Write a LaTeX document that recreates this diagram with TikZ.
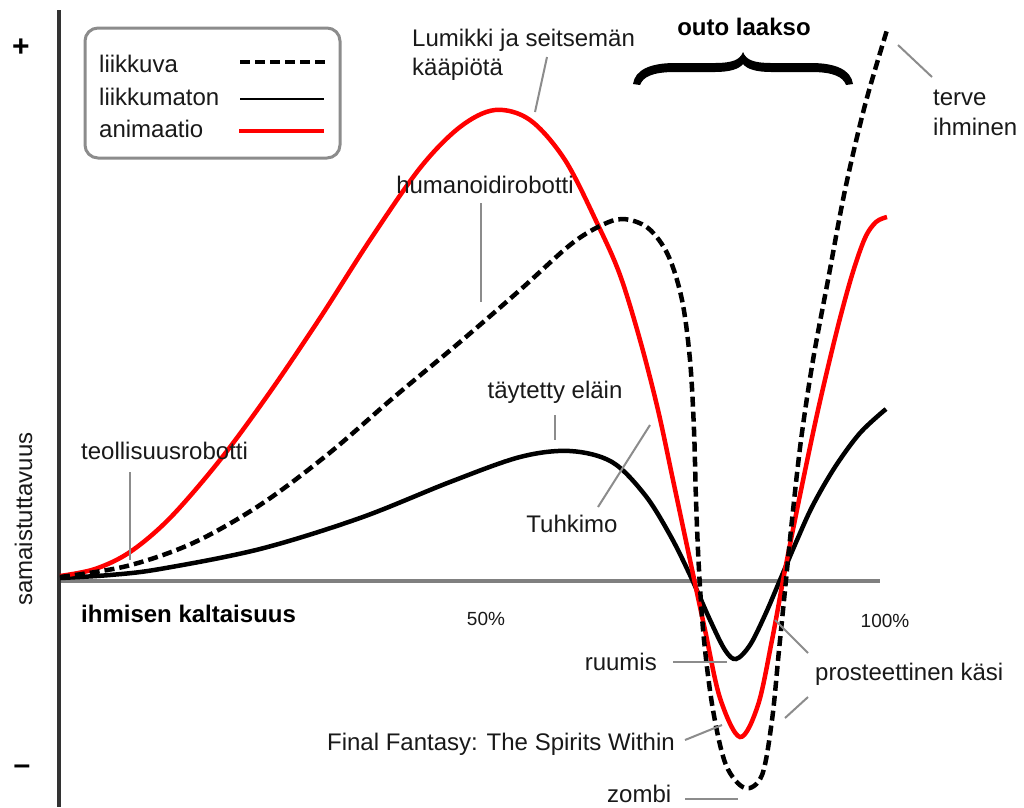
\documentclass[tikz,border=0pt]{standalone}
\usepackage{fontspec}
\setmainfont{Liberation Sans}
\definecolor{leadgray}{RGB}{140,140,140}
\definecolor{axisgray}{RGB}{128,128,128}
\definecolor{axisdark}{RGB}{51,51,51}
\definecolor{txt}{RGB}{25,25,25}
\begin{document}
\begin{tikzpicture}[x=1pt,y=-1pt,
  lbl/.style={font=\fontsize{24}{28}\selectfont, inner sep=0pt, text=txt},
  bold/.style={font=\fontsize{24}{28}\selectfont\bfseries, inner sep=0pt, text=black},
  sign/.style={font=\fontsize{30}{34}\selectfont\bfseries, inner sep=0pt, text=black},
  pct/.style={font=\fontsize{19}{22}\selectfont, inner sep=0pt, text=txt},
  lead/.style={draw=leadgray, line width=2pt},
  csolid/.style={draw=black, line width=4.5pt},
  cdash/.style={draw=black, line width=4.5pt, dash pattern=on 10pt off 5pt},
  cred/.style={draw=red, line width=4.5pt},
  legendbox/.style={draw=leadgray, line width=3pt, rounded corners=13pt, minimum width=255pt, minimum height=130pt, inner sep=0pt}
]
\useasboundingbox (0,0) rectangle (1024,807);
\fill[white] (0,0) rectangle (1024,807);

% axes
\coordinate (yaxtop) at (59,10);
\coordinate (yaxbot) at (59,807);
\coordinate (xaxl) at (59,581);
\coordinate (xaxr) at (880,581);
\draw[axisgray, line width=4pt] (xaxl) -- (xaxr);
\draw[axisdark, line width=4pt] (yaxtop) -- (yaxbot);

\node[sign] (plus) at (21,48) {+};
\node[sign] (minus) at (22,770) {–};
\node[lbl, rotate=90, anchor=base] (yl) at (32,519) {samaistuttavuus};
\node[bold, anchor=base west] (xl) at (81,622) {ihmisen kaltaisuus};
\node[pct, anchor=base] (p50) at (486,625) {50\%};
\node[pct, anchor=base] (p100) at (885,627) {100\%};

% legend
\node[legendbox] (legend) at (212.5,93) {};
\node[lbl, anchor=base west] (lg1) at (99,72) {liikkuva};
\node[lbl, anchor=base west] (lg2) at (99,105) {liikkumaton};
\node[lbl, anchor=base west] (lg3) at (99,137) {animaatio};
\coordinate (l1a) at (240,62); \coordinate (l1b) at (325,62);
\coordinate (l2a) at (240,99); \coordinate (l2b) at (324,99);
\coordinate (l3a) at (239,131); \coordinate (l3b) at (324,131);
\draw[draw=black, line width=4pt, dash pattern=on 10pt off 5pt] (l1a) -- (l1b);
\draw[draw=black, line width=2.5pt] (l2a) -- (l2b);
\draw[draw=red, line width=3.5pt] (l3a) -- (l3b);

% brace
\fill[black] (633,84) .. controls (635,70) and (650,63) .. (675,63) -- (715,63)
  .. controls (732,63) and (740,60) .. (743,52)
  .. controls (746,60) and (754,63) .. (771,63) -- (811,63)
  .. controls (836,63) and (851,70) .. (853,84) -- (846,85)
  .. controls (843,77) and (834,72) .. (811,72) -- (771,72)
  .. controls (756,72) and (747,69) .. (743,64)
  .. controls (739,69) and (730,72) .. (715,72) -- (675,72)
  .. controls (652,72) and (643,77) .. (640,85) -- cycle;
\node[bold, anchor=base] (outo) at (744,35) {outo laakso};

% curves
\draw[csolid] plot[smooth, tension=0.55] coordinates {(60,578) (110,575) (160,569) (260,549) (360,518) (450,482) (520,457) (570,451) (612,462) (645,495) (670,535) (690,575) (710,620) (725,650) (736,659) (750,645) (765,615) (780,580) (797,540) (813,505) (835,467) (860,433) (886,409)};
\draw[cred] plot[smooth, tension=0.55] coordinates {(60,576) (95,569) (130,552) (170,518) (220,460) (270,392) (320,318) (370,240) (420,168) (460,127) (495,110) (530,120) (565,160) (598,225) (620,275) (640,340) (658,410) (673,480) (690,560) (705,630) (720,698) (740,737) (758,705) (772,640) (785,570) (800,495) (818,410) (837,330) (852,275) (865,238) (876,222) (887,217)};
\draw[cdash] plot[smooth, tension=0.55] coordinates {(60,577) (127,566) (193,543) (260,505) (327,455) (393,398) (460,342) (520,290) (570,245) (600,226) (623,219) (648,228) (668,255) (682,300) (690,360) (694,430) (696,500) (699,570) (704,640) (713,710) (726,765) (745,788) (762,775) (772,720) (779,650) (785,590) (792,520) (801,440) (813,360) (828,280) (845,190) (865,105) (887,30)};

% labels and leaders
\node[lbl, anchor=base west] (lum1) at (412,46) {Lumikki ja seitsemän};
\node[lbl, anchor=base west] (lum2) at (412,75) {kääpiötä};
\coordinate (lumA) at (547,57); \coordinate (lumB) at (535,112);
\draw[lead] (lumA) -- (lumB);

\node[lbl, anchor=base west] (ter1) at (933,105) {terve};
\node[lbl, anchor=base west] (ter2) at (933,135) {ihminen};
\coordinate (terA) at (898,45); \coordinate (terB) at (932,77);
\draw[lead] (terA) -- (terB);

\node[lbl, anchor=base] (hum) at (485,193) {humanoidirobotti};
\coordinate (humA) at (481,203); \coordinate (humB) at (481,302);
\draw[lead] (humA) -- (humB);

\node[lbl, anchor=base west] (teo) at (81,459) {teollisuusrobotti};
\coordinate (teoA) at (130,472); \coordinate (teoB) at (130,560);
\draw[lead] (teoA) -- (teoB);

\node[lbl, anchor=base] (tay) at (555,398) {täytetty eläin};
\coordinate (tayA) at (555,415); \coordinate (tayB) at (555,440);
\draw[lead] (tayA) -- (tayB);

\node[lbl, anchor=base] (tuh) at (572,532) {Tuhkimo};
\coordinate (tuhA) at (598,507); \coordinate (tuhB) at (650,425);
\draw[lead] (tuhA) -- (tuhB);

\node[lbl, anchor=base east] (ruu) at (657,670) {ruumis};
\coordinate (ruuA) at (673,662); \coordinate (ruuB) at (727,662);
\draw[lead] (ruuA) -- (ruuB);

\node[lbl, anchor=base west] (pro) at (815,680) {prosteettinen käsi};
\coordinate (proA) at (775,620); \coordinate (proB) at (808,653);
\coordinate (proC) at (808,697); \coordinate (proD) at (785,718);
\draw[lead] (proB) -- (proA);
\draw[lead] (proC) -- (proD);

\node[lbl, anchor=base east] (ff) at (675,750) {Final Fantasy: The Spirits Within};
\coordinate (ffA) at (685,740); \coordinate (ffB) at (722,725);
\draw[lead] (ffA) -- (ffB);

\node[lbl, anchor=base west] (zom) at (607,802) {zombi};
\coordinate (zomA) at (685,799); \coordinate (zomB) at (738,799);
\draw[lead] (zomA) -- (zomB);
\end{tikzpicture}
\end{document}
